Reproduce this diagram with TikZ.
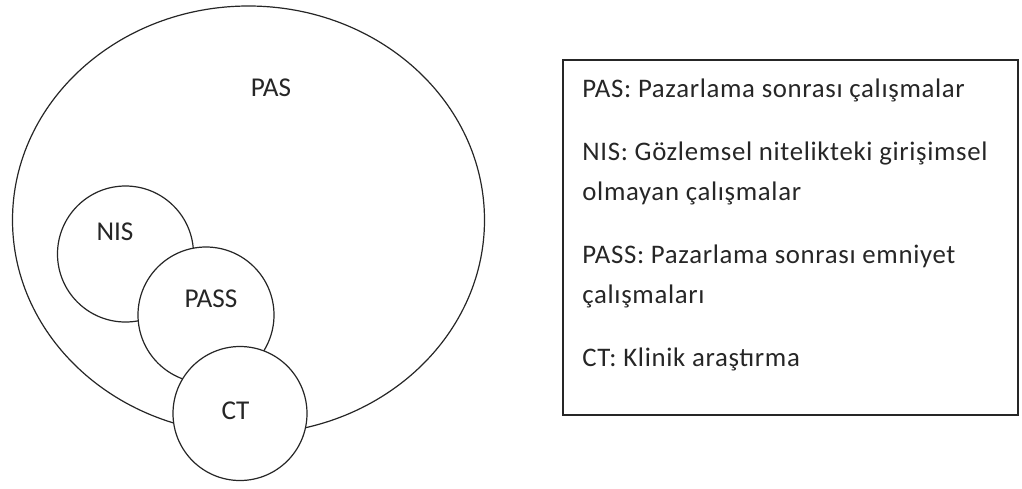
\documentclass[tikz,border=0pt]{standalone}
\usepackage{fontspec}
\setmainfont{Carlito}
\usetikzlibrary{shapes.geometric}
\begin{document}
\begin{tikzpicture}[x=0.5pt,y=-0.5pt,
  set/.style={draw=black!85,line width=0.6pt,fill=white,inner sep=0pt,outer sep=0pt},
  disk/.style={set,circle},
  lbl/.style={font=\fontsize{13.6pt}{15pt}\selectfont,text=black!85,inner sep=0pt,anchor=base},
  leg/.style={font=\fontsize{13.4pt}{15pt}\selectfont\addfontfeatures{LetterSpace=2.5},text=black!85,inner sep=0pt,anchor=base west}]
\useasboundingbox (0,0) rectangle (1022,488);
\node[set,ellipse,minimum width=236pt,minimum height=214pt] (pas) at (248.5,220) {};
\node[disk,minimum size=68pt] (nis) at (125.5,254) {};
\node[disk,minimum size=68pt] (pass) at (206,315) {};
\node[disk,minimum size=67pt] (ct) at (240,413.5) {};
\node[lbl] (tpas) at (271,96) {PAS};
\node[lbl] (tnis) at (115,240.5) {NIS};
\node[lbl] (tpass) at (211,307) {PASS};
\node[lbl] (tct) at (235.5,419) {CT};
\node[draw=black!85,line width=0.6pt,minimum width=227.5pt,minimum height=177.5pt,inner sep=0pt] (legend) at (790.5,237.5) {};
\node[leg] (l1) at (582,97) {PAS: Pazarlama sonrası çalışmalar};
\node[leg] (l2) at (582,160) {NIS: Gözlemsel nitelikteki girişimsel};
\node[leg] (l3) at (582,200) {olmayan çalışmalar};
\node[leg] (l4) at (582,263) {PASS: Pazarlama sonrası emniyet};
\node[leg] (l5) at (582,303) {çalışmaları};
\node[leg] (l6) at (582,366) {CT: Klinik araştırma};
\end{tikzpicture}
\end{document}
